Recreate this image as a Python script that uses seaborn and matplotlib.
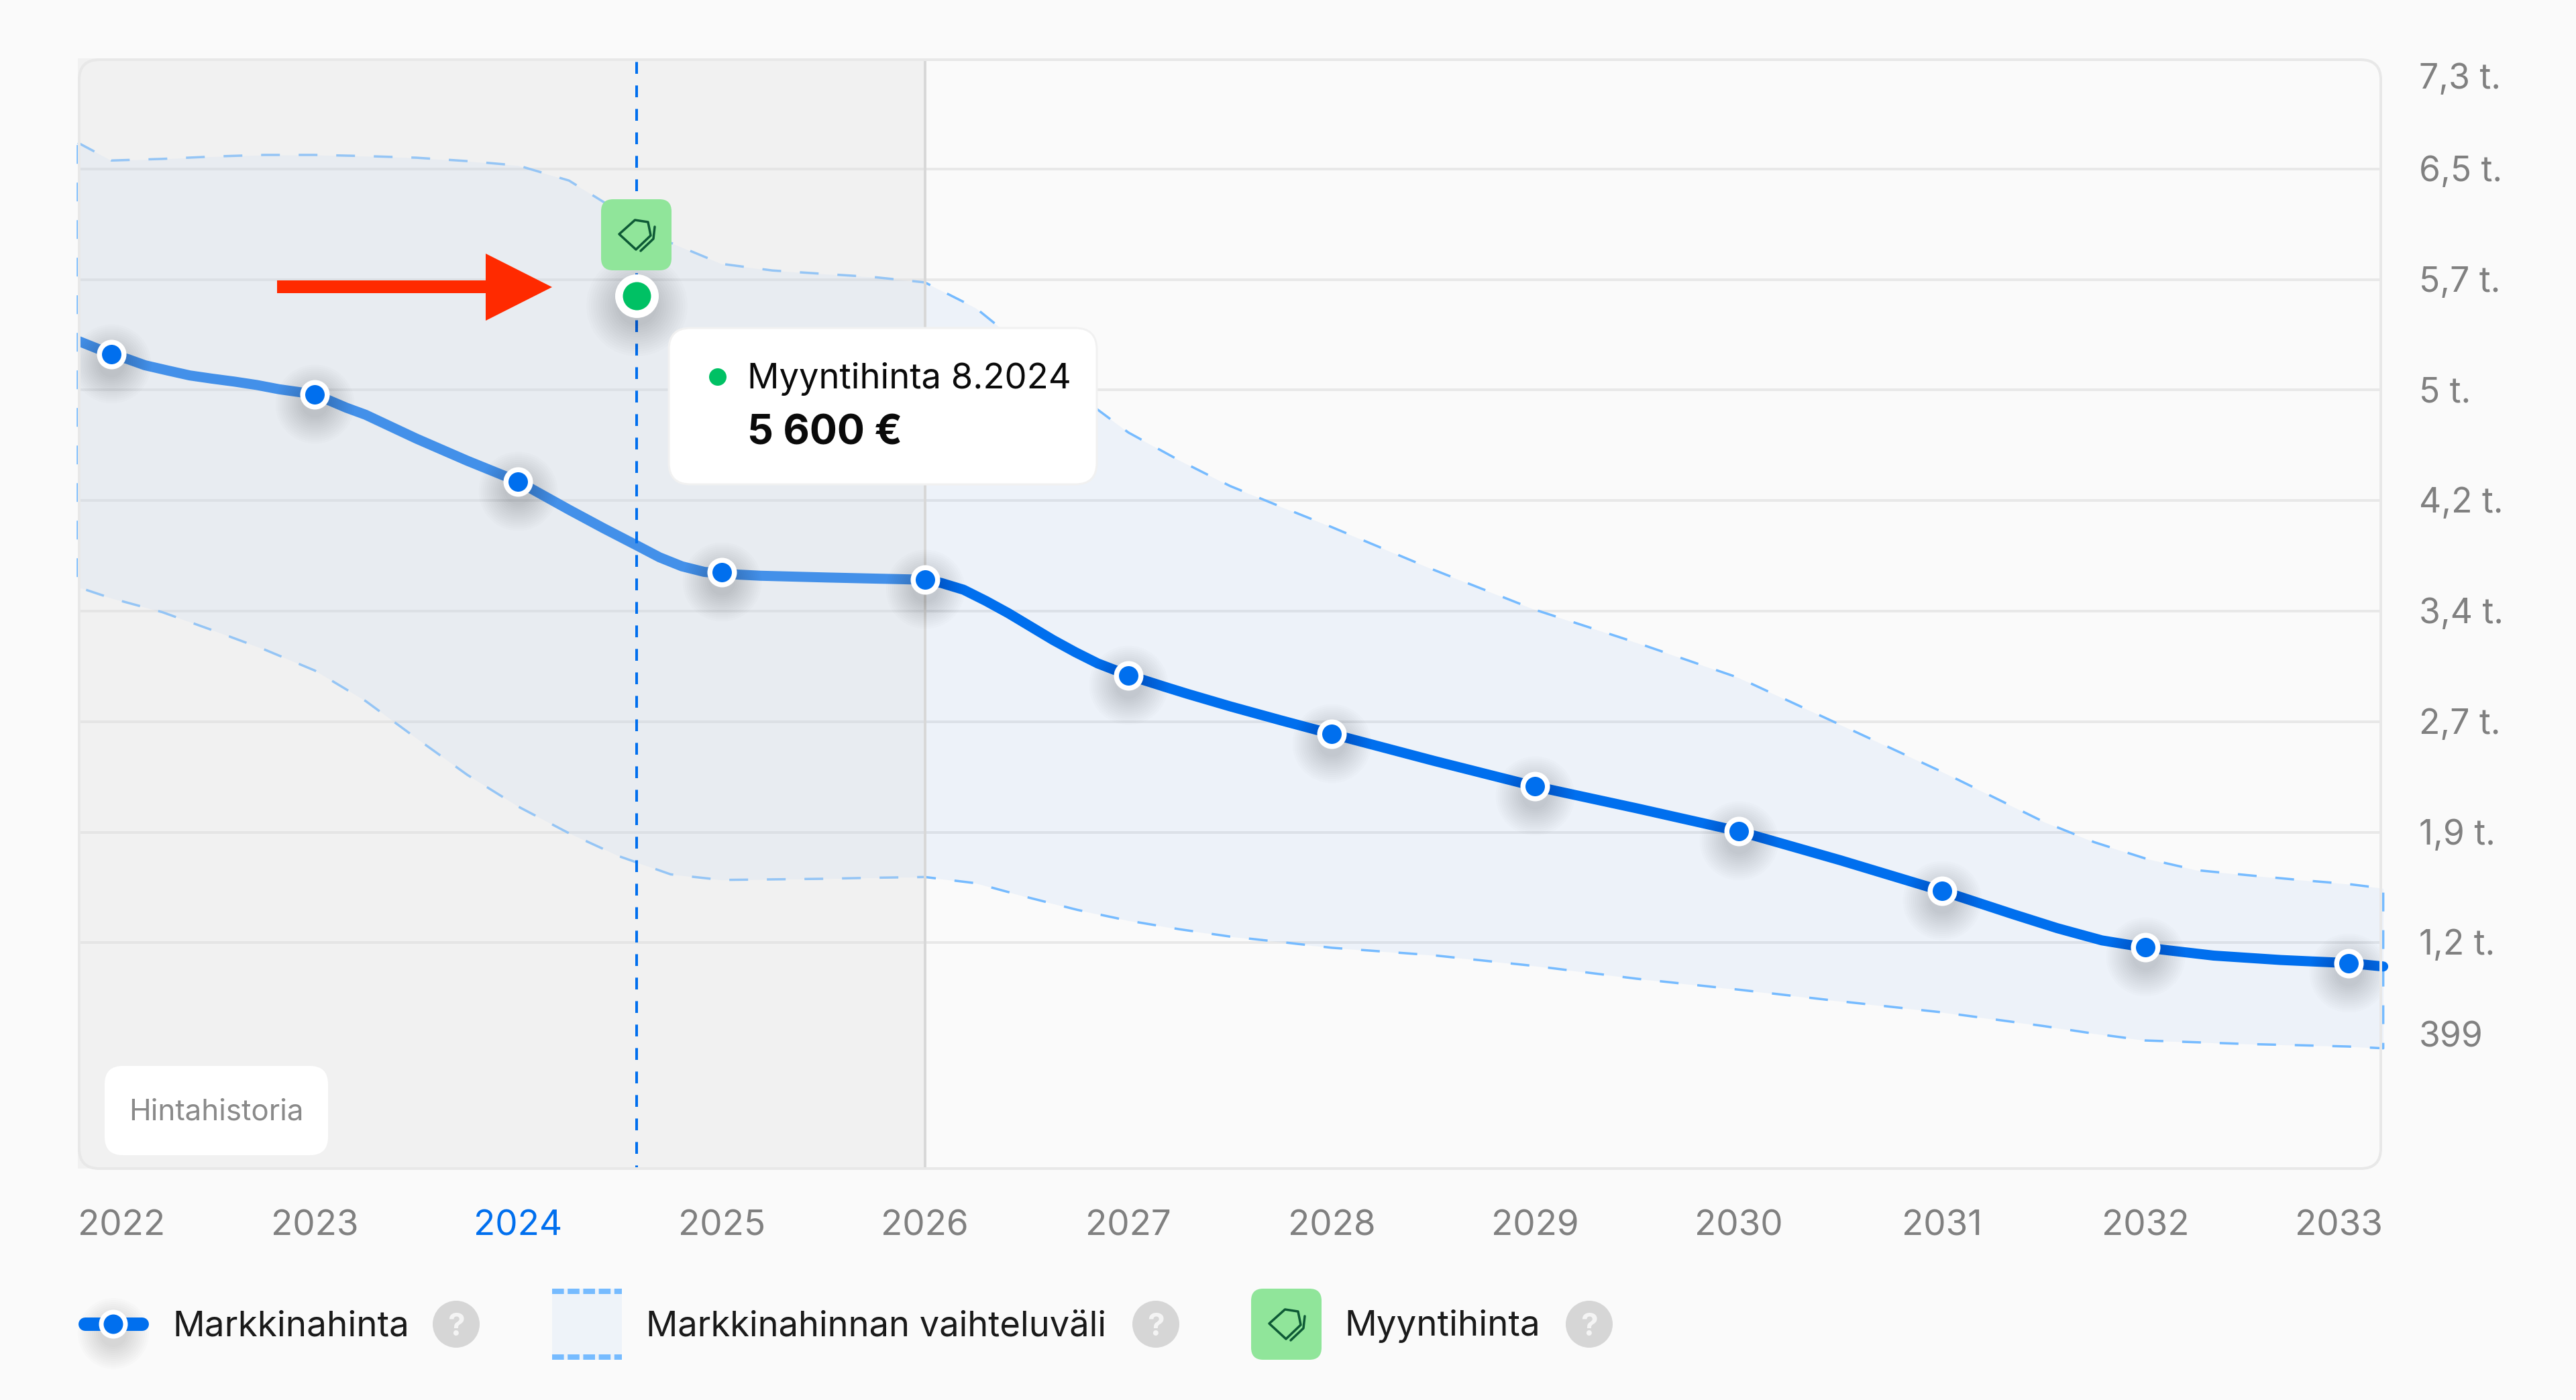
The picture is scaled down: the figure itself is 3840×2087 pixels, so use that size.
# Markkinahinta chart: market price, its range and one sale price
import matplotlib
matplotlib.use('Agg')
import matplotlib.pyplot as plt
from matplotlib.patches import FancyBboxPatch, Polygon, Rectangle, Circle
from matplotlib.transforms import ScaledTranslation
import seaborn as sns

# values
market_years = [2021.835, 2022, 2022.08, 2022.165, 2022.275, 2022.385, 2022.495, 2022.605, 2022.715, 2022.825,
                2023, 2023.155, 2023.25, 2023.5, 2023.75, 2024, 2024.25, 2024.42, 2024.58, 2024.695, 2024.805,
                2024.915, 2025, 2025.08, 2025.19, 2025.3, 2025.52, 2025.74,
                2026, 2026.08, 2026.19, 2026.3, 2026.41, 2026.52, 2026.63, 2026.74, 2026.85,
                2027, 2027.18, 2027.29, 2027.5, 2027.75, 2028, 2028.5, 2029, 2029.5, 2030, 2030.5, 2031,
                2031.347, 2031.567, 2031.787, 2032, 2032.117, 2032.336, 2032.666, 2033, 2033.17]
market_curve = [5284, 5193, 5160, 5118, 5083, 5049, 5027, 5007, 4984, 4955,
                4921, 4830, 4782, 4620, 4470, 4330, 4138, 4012, 3898, 3815, 3754,
                3716, 3706, 3698, 3690, 3686, 3678, 3671,
                3663, 3641, 3595, 3519, 3436, 3345, 3254, 3171, 3095,
                3015, 2936, 2889, 2804, 2709, 2617, 2435, 2261, 2112, 1957, 1760, 1552,
                1395, 1299, 1216, 1168, 1148, 1113, 1083, 1062, 1039]

band_years = [2021.835, 2022, 2022.25, 2022.5, 2022.75, 2023, 2023.25, 2023.5, 2023.75,
              2024, 2024.25, 2024.5, 2024.75, 2025, 2025.25, 2025.5, 2025.75,
              2026, 2026.25, 2026.5, 2026.75, 2027, 2027.25, 2027.5, 2027.75,
              2028, 2028.5, 2029, 2029.5, 2030, 2030.5, 2031, 2031.5, 2031.75,
              2032, 2032.25, 2032.5, 2032.75, 2033, 2033.17]
band_upper = [6628, 6507, 6518, 6534, 6545, 6545, 6537, 6526, 6503,
              6473, 6371, 6157, 5949, 5806, 5761, 5738, 5716,
              5680, 5506, 5227, 4919, 4662, 4473, 4299, 4158,
              4020, 3731, 3459, 3235, 2998, 2679, 2360, 2021, 1882,
              1772, 1693, 1659, 1627, 1598, 1569]
band_lower = [3613, 3537, 3443, 3319, 3191, 3047, 2840, 2587, 2339,
              2124, 1943, 1785, 1664, 1626, 1630, 1634, 1641,
              1646, 1604, 1510, 1423, 1350, 1292, 1242, 1205,
              1166, 1115, 1042, 956, 882, 803, 728, 635, 583,
              537, 525, 513, 505, 496, 484]
years = [2022, 2023, 2024, 2025, 2026, 2027, 2028, 2029, 2030, 2031, 2032, 2033]
year_prices = [5193, 4921, 4330, 3716, 3663, 3015, 2617, 2261, 1957, 1552, 1172, 1062]
sale_year = [2024.583]
sale_price = [5590]
history_end = 2026

y_ticks = [7200, 6450, 5700, 4950, 4200, 3450, 2700, 1950, 1200, 399]
y_labels = ['7,3 t.', '6,5 t.', '5,7 t.', '5 t.', '4,2 t.', '3,4 t.', '2,7 t.', '1,9 t.', '1,2 t.', '399']
x_labels = ['2022', '2023', '2024', '2025', '2026', '2027', '2028', '2029', '2030', '2031', '2032', '2033']

BLUE = '#006FEE'
DASH_BLUE = '#76BBFF'
GREEN = '#00C164'
BADGE = '#90E59A'
ICON = '#0E5A36'
GREY_TXT = '#808080'
BG = '#FAFAFA'

W, H, DPI = 3840, 2087, 200
px = 72 / DPI  # one image pixel in points
X0, X1 = 2021.835, 2033.158

sns.set_theme(style='white', rc={'figure.facecolor': BG, 'axes.facecolor': 'none'})
plt.rcParams['font.family'] = ['Inter', 'DejaVu Sans']

fig = plt.figure(figsize=(W / DPI, H / DPI), dpi=DPI)
ax = fig.add_axes([116 / W, 1 - 1742 / H, (3549 - 116) / W, (1742 - 87) / H])
ax.set_xlim(X0, X1)
ax.set_ylim(-332, 7191)
sns.despine(ax=ax, left=True, bottom=True)


def offset(dx, dy):
    # shift in image pixels, y down
    return ScaledTranslation(dx / DPI, -dy / DPI, fig.dpi_scale_trans)


# gridlines
ax.hlines(y_ticks[1:-1], X0, X1, color='#E8E8E8', lw=4 * px, zorder=1)

# range band with a dashed outline all round
ax.fill_between(band_years, band_lower, band_upper, color=BLUE, alpha=0.05,
                linewidth=0, zorder=2, clip_on=False)
sns.lineplot(x=band_years + band_years[::-1] + band_years[:1],
             y=band_upper + band_lower[::-1] + band_upper[:1],
             estimator=None, sort=False, color=DASH_BLUE, lw=3.5 * px,
             linestyle=(0, (8, 8)), zorder=3, clip_on=False, ax=ax)

# market price line
sns.lineplot(x=market_years, y=market_curve, estimator=None, sort=False, color=BLUE,
             lw=15 * px, solid_capstyle='round', solid_joinstyle='round', zorder=4, ax=ax)
ax.lines[-1].set_clip_path(Rectangle((0, 0), 1.02, 1, transform=ax.transAxes))

# history shade dims everything under it, markers stay bright
ax.axvspan(X0, history_end, ymin=-0.003, color='#DFDFDF', alpha=0.3, linewidth=0, zorder=5)
ax.axvline(history_end, color='#D8D8D8', lw=4 * px, zorder=5)
ax.axvline(sale_year[0], color=BLUE, lw=4 * px, linestyle=(3.25, (4.4, 4.35)), zorder=6)

# soft shadows below the markers
shadow_tr = ax.transData + offset(0, 14)
for k in range(14):
    ax.scatter(years, year_prices, s=((40 + k * 6) * px) ** 2, color='black', alpha=0.011,
               linewidths=0, transform=shadow_tr, zorder=7)
    ax.scatter(sale_year, sale_price, s=((60 + k * 7) * px) ** 2, color='black', alpha=0.013,
               linewidths=0, transform=shadow_tr, zorder=7)

sns.scatterplot(x=years, y=year_prices, s=(36.5 * px) ** 2, color=BLUE, edgecolor='white',
                linewidth=7.5 * px, zorder=8, clip_on=False, ax=ax)
sns.scatterplot(x=sale_year, y=sale_price, s=(53.5 * px) ** 2, color=GREEN, edgecolor='white',
                linewidth=11.5 * px, zorder=8, ax=ax)

# axes labels
ax.yaxis.tick_right()
ax.set_yticks(y_ticks, y_labels)
ax.set_xticks(years, x_labels)
ax.tick_params(axis='y', length=0, pad=57 * px, labelsize=51.5 * px, labelcolor=GREY_TXT)
ax.tick_params(axis='x', length=0, pad=62 * px, labelsize=53 * px, labelcolor=GREY_TXT)
ax.set_xlabel('')
ax.set_ylabel('')
xl = ax.get_xticklabels()
xl[0].set_transform(xl[0].get_transform() + offset(15, 0))
xl[-1].set_transform(xl[-1].get_transform() + offset(-15, 0))
xl[2].set_color(BLUE)
yl = ax.get_yticklabels()
for lab in yl[1:-1]:
    lab.set_transform(lab.get_transform() + offset(0, -1))
yl[0].set_transform(yl[0].get_transform() + offset(0, 26))
yl[-1].set_transform(yl[-1].get_transform() + offset(0, -40))

# everything that is page furniture lives on a pixel-sized overlay
ui = fig.add_axes([0, 0, 1, 1], facecolor='none')
ui.set_xlim(0, W)
ui.set_ylim(H, 0)
ui.axis('off')


def round_box(x0, y0, x1, y1, r, fc, ec='none', lw=0, z=3):
    ui.add_patch(FancyBboxPatch((x0, y0), x1 - x0, y1 - y0, boxstyle=f'round,pad=0,rounding_size={r}',
                                fc=fc, ec=ec, lw=lw * px, zorder=z, mutation_aspect=1))


def tag_icon(cx, cy):
    pts = [(-26, -1), (-2.5, -22), (17, -19), (21, 1), (-1, 22)]
    ui.add_patch(Polygon([(cx + a, cy + b) for a, b in pts], closed=True, fc='none', ec=ICON,
                         lw=3.5 * px, joinstyle='round', zorder=5))
    back = [(27, -12), (25, 6), (6, 24)]
    ui.plot([cx + a for a, b in back], [cy + b for a, b in back], color=ICON, lw=3.5 * px,
            solid_joinstyle='round', zorder=5)


def help_dot(cx, cy):
    ui.add_patch(Circle((cx, cy), 35, fc='#D6D6D6', ec='none', zorder=3))
    ui.text(cx, cy, '?', color='#F4F4F4', fontsize=46 * px, fontweight='bold', ha='center',
            va='center_baseline', zorder=4)


# frame
round_box(118, 89, 3549, 1742, 30, 'none', '#E8E8E8', 4, z=1)

# Hintahistoria chip
round_box(156, 1589, 489, 1722, 27, 'white')
ui.text(192, 1654, 'Hintahistoria', color='#8A8A8A', fontsize=44 * px, ha='left', va='center_baseline', zorder=4)

# red arrow
ui.add_patch(Polygon([(413, 418), (724, 418), (724, 378), (823, 428), (724, 478), (724, 437), (413, 437)],
                     closed=True, fc='#FF2A00', ec='none', zorder=4))

# sale price badge
round_box(896, 297, 1001, 403, 18, BADGE)
tag_icon(949, 350)

# tooltip
round_box(997, 489, 1635, 722, 32, 'white', '#F1F1F1', 3)
ui.add_patch(Circle((1070, 562), 13, fc=GREEN, ec='none', zorder=4))
ui.text(1114, 560, 'Myyntihinta 8.2024', color='#0A0A0A', fontsize=52.6 * px, ha='left', va='center_baseline', zorder=4)
ui.text(1114, 640, '5 600 €', color='#0A0A0A', fontsize=61 * px, fontweight='bold', ha='left',
        va='center_baseline', zorder=4)

# legend row
LEG_Y = 1974
TXT_Y = 1972
ui.plot([127, 212], [LEG_Y, LEG_Y], color=BLUE, lw=20 * px, solid_capstyle='round', zorder=3)
for k in range(12):
    ui.add_patch(Circle((169, LEG_Y + 14), 20 + k * 3, fc='black', alpha=0.011, ec='none', zorder=2))
ui.add_patch(Circle((169, LEG_Y), 21.5, fc='white', ec='none', zorder=4))
ui.add_patch(Circle((169, LEG_Y), 14.5, fc=BLUE, ec='none', zorder=5))
ui.text(257, TXT_Y, 'Markkinahinta', color='#1A1A1A', fontsize=53 * px, ha='left', va='center_baseline', zorder=4)
help_dot(680, LEG_Y)

ui.add_patch(Rectangle((823, 1921), 104, 106, fc='#EEF3F9', ec='none', zorder=3))
for yy in (1925, 2023):
    ui.plot([823, 927], [yy, yy], color=DASH_BLUE, lw=8 * px, linestyle=(0, (2.2, 0.7)),
            solid_capstyle='butt', dash_capstyle='butt', zorder=4)
ui.text(963, TXT_Y, 'Markkinahinnan vaihteluväli', color='#1A1A1A', fontsize=52.5 * px, ha='left',
        va='center_baseline', zorder=4)
help_dot(1723, LEG_Y)

round_box(1865, 1921, 1970, 2027, 18, BADGE)
tag_icon(1918, LEG_Y)
ui.text(2004, TXT_Y, 'Myyntihinta', color='#1A1A1A', fontsize=53 * px, ha='left', va='center_baseline', zorder=4)
help_dot(2369, LEG_Y)

fig.savefig('out.png', dpi=DPI, facecolor=BG)
